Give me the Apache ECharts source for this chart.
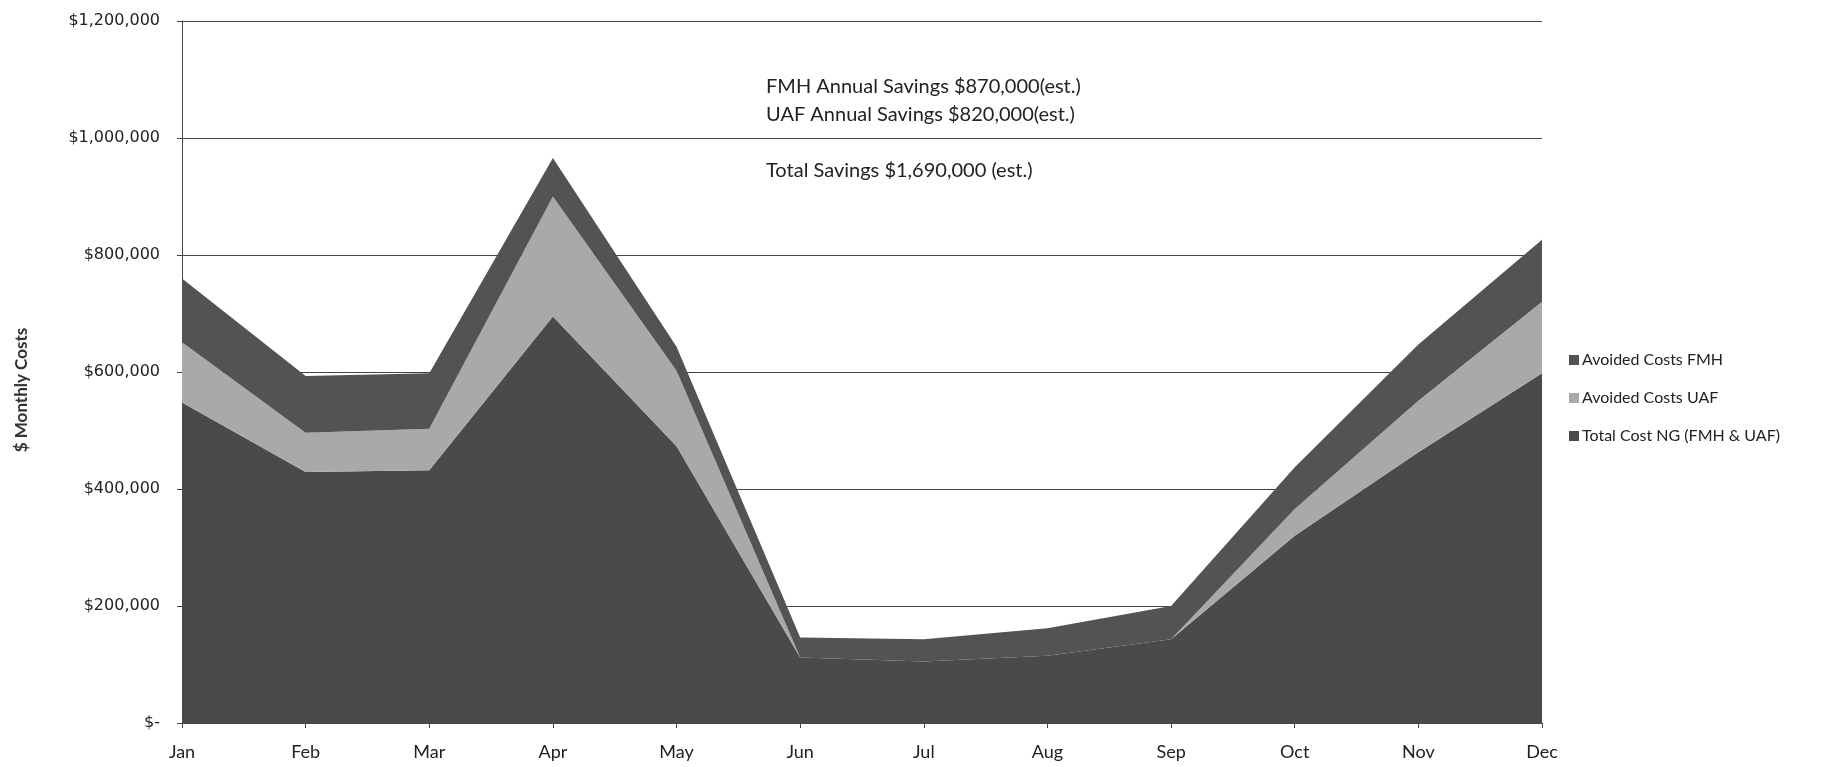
<!DOCTYPE html>
<html>
<head>
<meta charset="utf-8">
<title>Monthly Costs</title>
<script src="https://cdn.jsdelivr.net/npm/echarts@6/dist/echarts.min.js"></script>
<style>
  html, body { margin: 0; padding: 0; background: #fff; }
  #chart { width: 1825px; height: 767px; }
</style>
</head>
<body>
<div id="chart"></div>
<script>
// months along the x axis
const months = ['Jan', 'Feb', 'Mar', 'Apr', 'May', 'Jun', 'Jul', 'Aug', 'Sep', 'Oct', 'Nov', 'Dec'];

// stacked values (dollars)
const totalCostNG = [548000, 429000, 432000, 695000, 473000, 112000, 105000, 115000, 143000, 320000, 463000, 598000];
const avoidedUAF  = [103000, 67000, 71000, 205000, 129000, 0, 0, 0, 0, 46000, 88000, 122000];
const avoidedFMH  = [109000, 97000, 95000, 66000, 41000, 34000, 38000, 47000, 57000, 71000, 96000, 106000];

const seriesNames = ['Total Cost NG (FMH & UAF)', 'Avoided Costs UAF', 'Avoided Costs FMH'];
const notes = [
  'FMH Annual Savings $870,000(est.)',
  'UAF Annual Savings $820,000(est.)',
  'Total Savings $1,690,000 (est.)'
];

const colors = ['#4a4a4a', '#a9a9a9', '#535353'];
const fontCal = 'Lato, "Open Sans", sans-serif';

let myChart = echarts.init(document.getElementById('chart'), null, { renderer: 'canvas' });

function money(v) {
  if (v === 0) return '$-';
  return '$' + v.toLocaleString('en-US');
}

function areaSeries(name, data, color) {
  return {
    name: name,
    type: 'line',
    stack: 'cost',
    data: data,
    symbol: 'none',
    lineStyle: { width: 0 },
    areaStyle: { color: color, opacity: 1 },
    itemStyle: { color: color },
    emphasis: { disabled: true },
  };
}

let option = {
  backgroundColor: '#ffffff',
  animation: false,
  grid: {
    left: 182,
    right: 283,
    top: 21,
    bottom: 44,
    containLabel: false
  },
  legend: {
    orient: 'vertical',
    left: 1564,
    top: 347,
    itemWidth: 10,
    itemHeight: 10,
    itemGap: 22,
    icon: 'rect',
    data: [seriesNames[2], seriesNames[1], seriesNames[0]],
    textStyle: {
      fontFamily: fontCal,
      fontSize: 16,
      color: '#222',
      padding: [0, 0, 0, -2]
    }
  },
  xAxis: {
    type: 'category',
    data: months,
    boundaryGap: false,
    axisLine: { show: true, lineStyle: { color: '#444', width: 1 } },
    axisTick: { show: true, length: 5, lineStyle: { color: '#444' } },
    axisLabel: {
      color: '#222',
      fontFamily: fontCal,
      fontSize: 18,
      margin: 20,
      interval: 0
    },
    splitLine: { show: false }
  },
  yAxis: {
    type: 'value',
    min: 0,
    max: 1200000,
    interval: 200000,
    name: '$ Monthly Costs',
    nameLocation: 'middle',
    nameGap: 152,
    nameRotate: 90,
    nameTextStyle: {
      fontFamily: fontCal,
      fontWeight: 'bold',
      fontSize: 17,
      color: '#333',
      padding: [0, 36, 0, 0]
    },
    axisLine: { show: true, lineStyle: { color: '#444', width: 1 } },
    axisTick: { show: true, length: 5, lineStyle: { color: '#444' } },
    axisLabel: {
      color: '#222',
      fontFamily: '"DejaVu Sans", sans-serif',
      fontSize: 16,
      margin: 22,
      formatter: money
    },
    splitLine: { show: true, lineStyle: { color: '#444', width: 1 } }
  },
  graphic: [
    { type: 'text', left: 766, top: 77, style: { text: notes[0], fontFamily: fontCal, fontSize: 20, fill: '#222' } },
    { type: 'text', left: 766, top: 105, style: { text: notes[1], fontFamily: fontCal, fontSize: 20, fill: '#222' } },
    { type: 'text', left: 766, top: 161, style: { text: notes[2], fontFamily: fontCal, fontSize: 20, fill: '#222' } }
  ],
  series: [
    areaSeries(seriesNames[0], totalCostNG, colors[0]),
    areaSeries(seriesNames[1], avoidedUAF, colors[1]),
    areaSeries(seriesNames[2], avoidedFMH, colors[2])
  ]
};

myChart.setOption(option);
</script>
</body>
</html>
